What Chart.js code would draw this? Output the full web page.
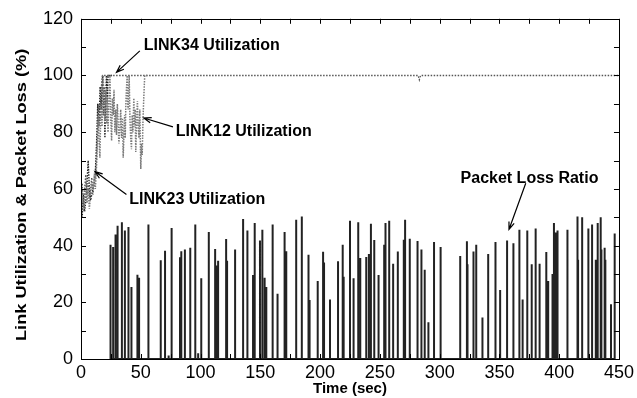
<!DOCTYPE html>
<html>
<head>
<meta charset="utf-8">
<script src="https://cdn.jsdelivr.net/npm/chart.js@4.4.1/dist/chart.umd.min.js"></script>
<style>
  html, body { margin: 0; padding: 0; background: #fff; }
  #wrap { width: 637px; height: 398px; position: relative; }
</style>
</head>
<body>
<div id="wrap"><canvas id="chart"></canvas></div>
<script>
// utilization traces (time in sec, value in %)
const link12Time = [0, 1, 2, 3, 4, 5, 6, 7, 8, 9, 10, 11, 12, 13, 14.4, 15, 15.8, 16.4, 17, 17.6, 18.6, 19.3, 20, 20.8, 21.5, 22, 22.6, 23.3, 24.2,
  24.9, 25.6, 26.3, 27, 27.6, 28.3, 29, 29.7, 30.4, 31, 31.7, 32.5, 33.2, 34, 34.7, 35.3, 36, 36.5, 37, 37.5, 38, 38.6, 39, 39.5, 40.3, 41,
  41.6, 42.2, 42.8, 43.4, 44.2, 44.8, 45.3, 45.8, 46.5, 47.2, 47.8, 48.5, 49.2, 50, 50.6, 51.2, 51.9, 52.5, 53.3, 56];
const link12Util = [54, 60, 52, 57, 62, 55, 60, 53, 58, 62, 60, 64, 60, 68, 86, 78, 71, 84, 90, 82, 100, 88, 84, 95, 83, 92, 80, 90, 100,
  85, 77, 92, 86, 95, 80, 88, 79, 90, 84, 76, 81, 88, 78, 85, 71, 80, 86, 78, 90, 95, 100, 90, 88, 100, 84,
  78, 74, 86, 80, 92, 82, 88, 73, 84, 91, 82, 78, 88, 67, 76, 72, 85, 92, 100, 100];

const link23Time = [0, 1, 2, 3, 4, 5, 6, 7, 8, 9, 10, 11, 12, 13, 14, 15, 16, 17, 18, 18.7, 19.3, 20, 20.7, 21.3, 22, 22.6, 26];
const link23Util = [54, 50, 58, 52, 56, 62, 70, 60, 56, 58, 60, 62, 66, 76, 90, 82, 96, 88, 100, 86, 96, 78, 92, 100, 90, 100, 100];

const link34Time = [0, 1, 2, 3, 4, 5, 6, 7, 8, 9, 10, 11, 12, 13, 14, 15, 16, 17, 18, 282, 283, 284, 450];
const link34Util = [58, 62, 54, 60, 65, 58, 62, 57, 60, 64, 58, 62, 65, 70, 82, 90, 84, 96, 100, 100, 98.5, 100, 100];

// packet loss ratio spikes
const lossTime = [24.7, 26.9, 28.9, 30.6, 34.2, 36.7, 39.7, 42.2, 47.2, 48.6, 56.4, 66.7, 70.3, 73.3, 75.8, 82.8, 83.9, 86.9, 91.4, 95.6, 98, 100.6,
  106.9, 112.2, 113.3, 114.7, 121.4, 122.2, 128.9, 135.6, 139.2, 143.9, 145.3, 149.7, 151.7, 153.6, 155, 160.3, 164.4, 170.3, 171.7, 180, 184.7,
  190.3, 191.2, 198, 202.5, 203.3, 208.3, 215, 218.9, 219.7, 225, 228, 231.9, 233.6, 238.6, 240.8, 242.5, 245.3, 248.9, 253.6, 254.7, 257.8,
  261.1, 265, 270, 271.1, 275, 281.5, 284.4, 285, 287.5, 290.6, 295.3, 300.8, 317.2, 322.8, 323.3, 328.3, 330.6, 335.8, 340.6, 346.7, 350.6,
  356.4, 361.7, 366.7, 369.4, 373.3, 377, 380.3, 383.6, 389.2, 390.8, 394.4, 395.6, 397, 398.6, 406.9, 415.3, 415.8, 419.2, 424.4, 427.5,
  430.6, 432.2, 434.7, 435.3, 438, 438.6, 443.3, 446.4];
const lossRatio = [40.3, 39.5, 43.9, 47, 48.2, 45.3, 46.6, 25.4, 29.7, 28.7, 47.4, 34.8, 38.2, 1.2, 46.2, 35.9, 38, 38.6, 39.2, 47.4, 2, 28.5,
  44.8, 38.8, 33, 34.7, 42.3, 34.7, 38.6, 49.4, 45.3, 29.6, 48, 41.8, 45.6, 28.7, 25.4, 47.4, 23, 44.8, 38, 49.1, 50.3,
  36.8, 20.8, 27.5, 37.8, 34, 21, 34.5, 40.3, 29, 48.8, 28.5, 48.2, 35.6, 36, 37, 47.7, 42, 29.6, 40.3, 48, 48.8,
  33.6, 37.9, 42.1, 49.1, 42.4, 41.6, 38.6, 33.9, 31.5, 13, 41.3, 39.5, 36.3, 41.5, 33.4, 37.9, 40.3, 14.6, 37, 41.3, 24.3,
  41.8, 40.8, 45.6, 21, 45.3, 33.4, 46, 33.6, 37.7, 27.5, 30, 48, 44.6, 45.3, 45.6, 50.3, 35, 50, 46, 47.4,
  35, 48, 50, 38.6, 39.2, 35, 19.3, 44.3];

const xTickLabels = [0, 50, 100, 150, 200, 250, 300, 350, 400, 450];
const xTickMarks = [0, 25, 50, 75, 100, 125, 150, 175, 200, 225, 250, 275, 300, 325, 350, 375, 400, 425, 450];
const yTickMarks = [0, 10, 20, 30, 40, 50, 60, 70, 80, 90, 100, 110, 120];

const FONT = "'Liberation Sans', Arial, Helvetica, sans-serif";

function pairs(ts, vs) {
    return ts.map((t, i) => ({ x: t, y: vs[i] }));
}

// each loss value becomes an impulse: up from 0 and back down
function impulses(ts, vs) {
    const pts = [];
    ts.forEach((t, i) => {
        pts.push({ x: t, y: 0 }, { x: t, y: vs[i] }, { x: t, y: 0 });
    });
    return pts;
}

const notes = [
    { text: 'LINK34 Utilization', at: [52.5, 110.5], from: [49.2, 108.7], to: [29.7, 101.1] },
    { text: 'LINK12 Utilization', at: [79.2, 80.1], from: [76.9, 81.9], to: [52.5, 85] },
    { text: 'LINK23 Utilization', at: [40.3, 56.3], from: [38, 58], to: [11.7, 66.1] },
    { text: 'Packet Loss Ratio', at: [317.5, 63.8], from: [372, 62], to: [358, 45.7] }
];

const framePlugin = {
    id: 'framePlugin',
    afterDatasetsDraw(chart) {
        const { ctx, chartArea: a, scales: { x, y } } = chart;
        ctx.save();
        ctx.strokeStyle = '#000';
        ctx.lineWidth = 1;
        ctx.strokeRect(Math.round(a.left) + 0.5, Math.round(a.top) + 0.5,
            Math.round(a.right - a.left), Math.round(a.bottom - a.top));
        const len = 5;
        ctx.beginPath();
        xTickMarks.forEach(v => {
            const px = Math.round(x.getPixelForValue(v)) + 0.5;
            ctx.moveTo(px, a.bottom); ctx.lineTo(px, a.bottom - len);
            ctx.moveTo(px, a.top); ctx.lineTo(px, a.top + len);
        });
        yTickMarks.forEach(v => {
            const py = Math.round(y.getPixelForValue(v)) + 0.5;
            ctx.moveTo(a.left, py); ctx.lineTo(a.left + len, py);
            ctx.moveTo(a.right, py); ctx.lineTo(a.right - len, py);
        });
        ctx.stroke();

        // annotations with open arrow heads
        ctx.fillStyle = '#000';
        ctx.font = 'bold 16px ' + FONT;
        ctx.textBaseline = 'middle';
        ctx.textAlign = 'left';
        ctx.lineWidth = 1.2;
        notes.forEach(n => {
            ctx.fillText(n.text, x.getPixelForValue(n.at[0]), y.getPixelForValue(n.at[1]));
            const x1 = x.getPixelForValue(n.from[0]), y1 = y.getPixelForValue(n.from[1]);
            const x2 = x.getPixelForValue(n.to[0]), y2 = y.getPixelForValue(n.to[1]);
            const ang = Math.atan2(y2 - y1, x2 - x1);
            const h = 8;
            ctx.beginPath();
            ctx.moveTo(x1, y1); ctx.lineTo(x2, y2);
            ctx.moveTo(x2 - h * Math.cos(ang - 0.35), y2 - h * Math.sin(ang - 0.35));
            ctx.lineTo(x2, y2);
            ctx.lineTo(x2 - h * Math.cos(ang + 0.35), y2 - h * Math.sin(ang + 0.35));
            ctx.stroke();
        });

        // y axis title, stretched along its length like the original
        const title = 'Link Utilization & Packet Loss (%)';
        ctx.font = 'bold 14px ' + FONT;
        const w = ctx.measureText(title).width;
        const k = Math.min(1.3, Math.max(0.8, 296 / w));
        ctx.translate(22, (a.top + a.bottom) / 2 + 6);
        ctx.rotate(-Math.PI / 2);
        ctx.scale(k, 1);
        ctx.textAlign = 'center';
        ctx.fillText(title, 0, 0);
        ctx.restore();
    }
};

new Chart(document.getElementById('chart'), {
    type: 'line',
    data: {
        datasets: [
            {
                label: 'Packet Loss Ratio',
                data: impulses(lossTime, lossRatio),
                borderColor: '#222',
                borderWidth: 2,
                pointRadius: 0,
                tension: 0
            },
            {
                label: 'LINK12 Utilization',
                data: pairs(link12Time, link12Util),
                borderColor: '#7a7a7a',
                borderWidth: 1.5,
                borderDash: [1.5, 1.2],
                pointRadius: 0,
                tension: 0
            },
            {
                label: 'LINK34 Utilization',
                data: pairs(link34Time, link34Util),
                borderColor: '#555',
                borderWidth: 1.3,
                borderDash: [1.5, 1.5],
                pointRadius: 0,
                tension: 0
            },
            {
                label: 'LINK23 Utilization',
                data: pairs(link23Time, link23Util),
                borderColor: '#222',
                borderWidth: 1.4,
                borderDash: [1.5, 1.2],
                pointRadius: 0,
                tension: 0
            }
        ]
    },
    options: {
        responsive: true,
        maintainAspectRatio: false,
        animation: false,
        events: [],
        layout: { padding: { top: 16, right: 16, left: 0, bottom: 0 } },
        plugins: {
            legend: { display: false },
            tooltip: { enabled: false }
        },
        scales: {
            x: {
                type: 'linear',
                min: 0,
                max: 450,
                grid: { display: false, drawTicks: false },
                border: { display: false },
                afterBuildTicks: s => { s.ticks = xTickLabels.map(v => ({ value: v })); },
                ticks: { color: '#000', font: { family: FONT, size: 18 }, padding: 3, maxRotation: 0, autoSkip: false },
                title: { display: true, text: 'Time (sec)', color: '#000', font: { family: FONT, size: 15, weight: 'bold' }, padding: { top: 0, bottom: 0 } },
                afterFit: s => { s.height = 39; }
            },
            y: {
                min: 0,
                max: 120,
                grid: { display: false, drawTicks: false },
                border: { display: false },
                ticks: { stepSize: 20, color: '#000', font: { family: FONT, size: 18 }, padding: 8 },
                afterFit: s => { s.width = 81; }
            }
        }
    },
    plugins: [framePlugin]
});
</script>
</body>
</html>
